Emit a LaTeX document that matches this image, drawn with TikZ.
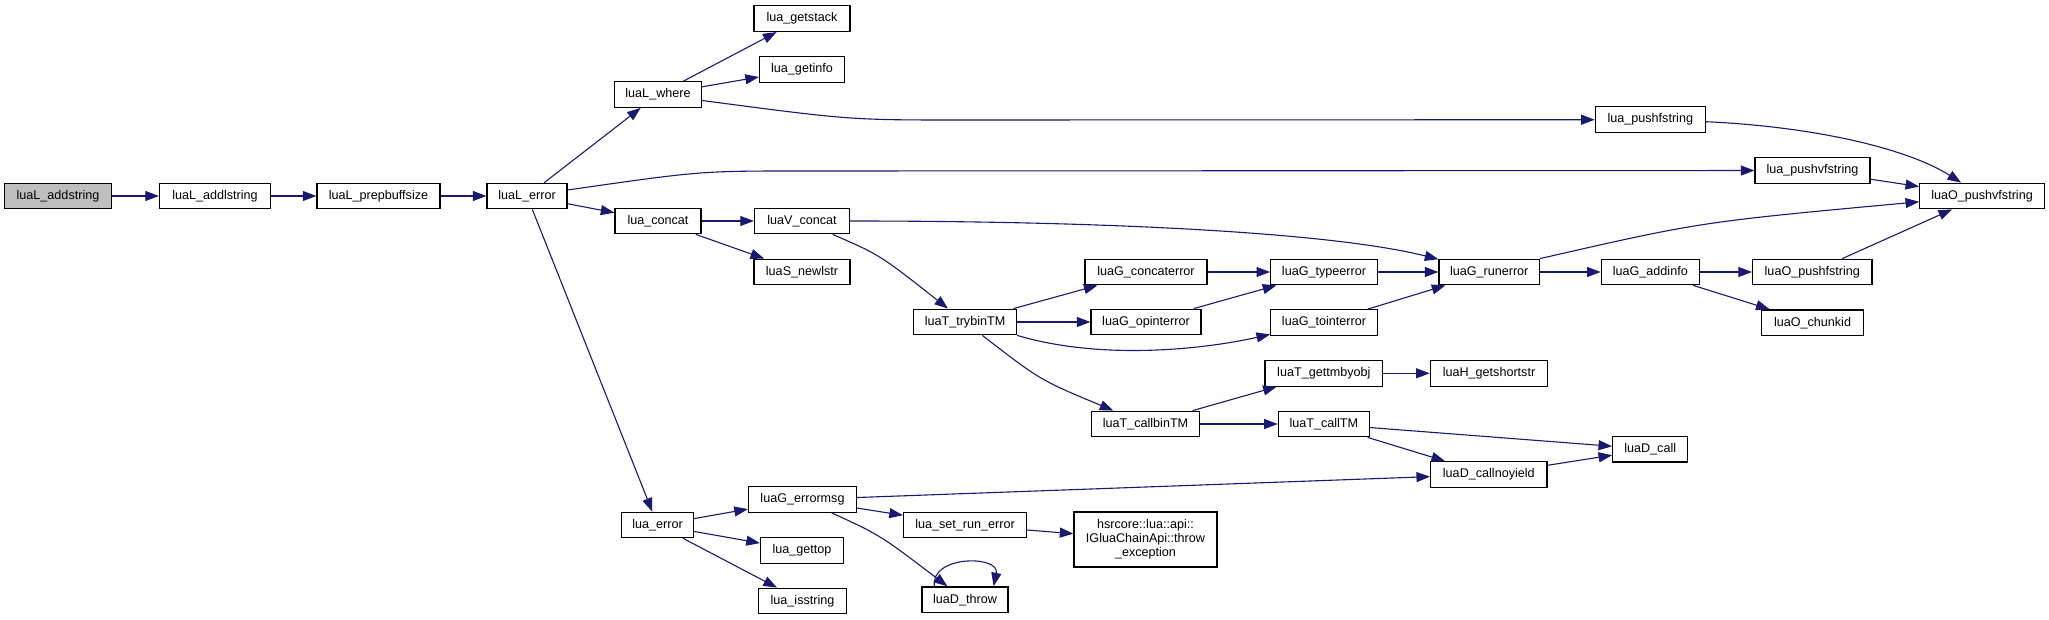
\documentclass[tikz,border=0pt]{standalone}
\usepackage{fontspec}
\setmainfont{Liberation Sans}
\usetikzlibrary{arrows.meta}
\definecolor{callblue}{RGB}{25,25,112}
\definecolor{rootgray}{RGB}{191,191,191}

\begin{document}
\begin{tikzpicture}[
    x=0.5pt, y=-0.5pt,
    fn/.style={draw, line width=0.6pt, minimum height=12.8pt, inner xsep=2pt, inner ysep=1pt, font=\fontsize{6.3}{7.1}\selectfont},
    call/.style={-{Triangle[length=6.8pt, width=5pt]}, draw=callblue, fill=none, line width=0.55pt}
]
\fill[white] (0,0) rectangle (2049,620);
\useasboundingbox (0,0) rectangle (2049,620);

\node[fn, fill=rootgray, minimum width=53.5pt] (addstring) at (58,196) {luaL\_addstring};
\node[fn, minimum width=55.5pt] (addlstring) at (215,196) {luaL\_addlstring};
\node[fn, minimum width=61.5pt] (prepbuff) at (378.5,196) {luaL\_prepbuffsize};
\node[fn, minimum width=40pt] (lerror) at (527,196) {luaL\_error};
\node[fn, minimum width=43.5pt] (lwhere) at (658,94.5) {luaL\_where};
\node[fn, minimum width=43pt] (lconcat) at (658,221) {lua\_concat};
\node[fn, minimum width=48pt] (getstack) at (802,18.7) {lua\_getstack};
\node[fn, minimum width=42.5pt] (getinfo) at (802,69.5) {lua\_getinfo};
\node[fn, minimum width=47.5pt] (vconcat) at (802,221) {luaV\_concat};
\node[fn, minimum width=48pt] (newlstr) at (802,272) {luaS\_newlstr};
\node[fn, minimum width=61pt] (concaterror) at (1146,272) {luaG\_concaterror};
\node[fn, minimum width=55pt] (pushf) at (1650.3,119.7) {lua\_pushfstring};
\node[fn, minimum width=57.5pt] (pushv) at (1812.5,170.5) {lua\_pushvfstring};
\node[fn, minimum width=62.3pt] (pushvo) at (1982,196) {luaO\_pushvfstring};
\node[fn, minimum width=53.3pt] (typeerror) at (1324,272) {luaG\_typeerror};
\node[fn, minimum width=50.2pt] (runerror) at (1489.2,272) {luaG\_runerror};
\node[fn, minimum width=49pt] (addinfo) at (1650.3,272) {luaG\_addinfo};
\node[fn, minimum width=59.7pt] (opushf) at (1812.3,272) {luaO\_pushfstring};
\node[fn, minimum width=50.8pt] (chunkid) at (1812.5,322.7) {luaO\_chunkid};
\node[fn, minimum width=51.5pt] (trybin) at (965,322) {luaT\_trybinTM};
\node[fn, minimum width=55pt] (opinterror) at (1146,322) {luaG\_opinterror};
\node[fn, minimum width=53.3pt] (tointerror) at (1324,322.5) {luaG\_tointerror};
\node[fn, minimum width=54pt] (callbin) at (1145.5,424) {luaT\_callbinTM};
\node[fn, minimum width=58.8pt] (gettm) at (1323.8,373.3) {luaT\_gettmbyobj};
\node[fn, minimum width=58.7pt] (getshort) at (1489,373.3) {luaH\_getshortstr};
\node[fn, minimum width=45.5pt] (calltm) at (1323.8,424) {luaT\_callTM};
\node[fn, minimum width=37.5pt] (dcall) at (1650.2,449.2) {luaD\_call};
\node[fn, minimum width=58.2pt] (callnoyield) at (1488.8,474.5) {luaD\_callnoyield};
\node[fn, minimum width=36pt] (luaerror) at (657.6,525) {lua\_error};
\node[fn, minimum width=54pt] (errormsg) at (802.5,499.5) {luaG\_errormsg};
\node[fn, minimum width=61.5pt] (setrun) at (965,525) {lua\_set\_run\_error};
\node[fn, minimum width=71.5pt, minimum height=27.5pt, align=center] (hsrcore) at (1145.5,539.5) {hsrcore::lua::api::\hfill\null\\IGluaChainApi::throw\\\_exception};
\node[fn, minimum width=41.5pt] (gettop) at (802,550.5) {lua\_gettop};
\node[fn, minimum width=44pt] (isstring) at (802.5,601) {lua\_isstring};
\node[fn, minimum width=43pt] (dthrow) at (965,599.7) {luaD\_throw};

\draw[call] (addstring) -- (addlstring);
\draw[call] (addlstring) -- (prepbuff);
\draw[call] (prepbuff) -- (lerror);
\draw[call] (lerror) -- (lwhere);
\draw[call] ([yshift=3pt]lerror.east) .. controls (700,171) .. (800,171) -- (pushv);
\draw[call] (lerror) -- (lconcat);
\draw[call] (lerror) -- (luaerror);
\draw[call] (lwhere) -- (getstack);
\draw[call] (lwhere) -- (getinfo);
\draw[call] ([yshift=-3pt]lwhere.east) .. controls (850,120) .. (960,120) -- (pushf);
\draw[call] ([yshift=-1pt]pushf.east) .. controls (1820,127) and (1910,150) .. (pushvo);
\draw[call] (pushv) -- (pushvo);
\draw[call] (lconcat) -- (vconcat);
\draw[call] (lconcat) -- (newlstr);
\draw[call] (vconcat.east) .. controls (1100,221) and (1330,232) .. (runerror);
\draw[call] (vconcat) .. controls (880,255) .. (trybin);
\draw[call] (trybin) -- (concaterror);
\draw[call] (trybin) -- (opinterror);
\draw[call] (trybin.south east) .. controls (1100,360) and (1200,350) .. (tointerror);
\draw[call] (trybin) .. controls (1040,380) .. (callbin);
\draw[call] (concaterror) -- (typeerror);
\draw[call] (opinterror) -- (typeerror);
\draw[call] (typeerror) -- (runerror);
\draw[call] (tointerror) -- (runerror);
\draw[call] (runerror.north east) .. controls (1700,222) .. (pushvo);
\draw[call] (runerror) -- (addinfo);
\draw[call] (addinfo) -- (opushf);
\draw[call] (addinfo) -- (chunkid);
\draw[call] (opushf) -- (pushvo);
\draw[call] (callbin) -- (gettm);
\draw[call] (callbin) -- (calltm);
\draw[call] (gettm) -- (getshort);
\draw[call] (calltm) -- (dcall);
\draw[call] (calltm) -- (callnoyield);
\draw[call] (callnoyield) -- (dcall);
\draw[call] (luaerror) -- (errormsg);
\draw[call] (luaerror) -- (gettop);
\draw[call] (luaerror) -- (isstring);
\draw[call] (errormsg) -- (callnoyield);
\draw[call] (errormsg) -- (setrun);
\draw[call] (errormsg) .. controls (880,535) .. (dthrow);
\draw[call] (setrun) -- (hsrcore);
\draw[call] ([xshift=6.5pt]dthrow.north west) .. controls (930,555) and (1000,555) .. ([xshift=-7.5pt]dthrow.north east);
\end{tikzpicture}
\end{document}
